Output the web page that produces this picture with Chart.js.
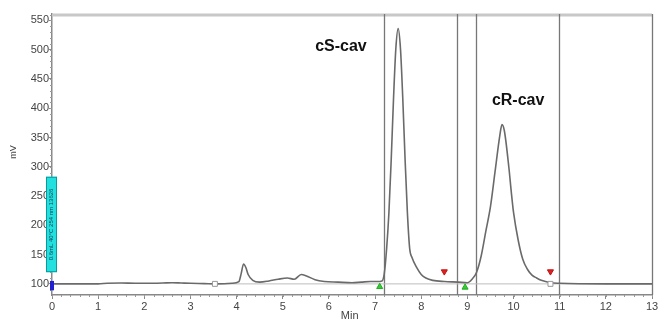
<!DOCTYPE html>
<html><head><meta charset="utf-8">
<script src="https://cdn.jsdelivr.net/npm/chart.js@4/dist/chart.umd.min.js"></script>
<style>html,body{margin:0;padding:0;background:#fff}#wrap{width:660px;height:323px}</style>
</head><body><div id="wrap"><canvas id="c" width="660" height="323"></canvas></div>
<script>
// Chromatogram trace: retention time (min) and detector signal (mV)
const times = [0,0.5,1.0,1.2,1.5,1.8,2.0,2.4,2.6,2.8,3.0,3.3,3.55,3.9,4.05,4.1,4.15,4.2,4.25,4.35,4.5,4.7,4.9,5.1,5.25,5.4,5.5,5.7,5.9,6.2,6.5,6.7,6.9,7.05,7.15,7.2,7.25,7.3,7.35,7.4,7.45,7.5,7.55,7.6,7.65,7.7,7.75,7.8,7.9,8.0,8.1,8.25,8.5,8.8,9.0,9.1,9.2,9.3,9.4,9.5,9.6,9.7,9.75,9.8,9.9,9.95,10.0,10.1,10.2,10.3,10.4,10.5,10.6,10.8,11,12,13];
const signal = [100,100,100,101,101.5,101,101,101.5,102,101.5,101,100.5,100,101,104,118,134,128,116,106,103,105,108,110,108,116,114,107,104,103,102,103,104,104,105,118,160,222,313,417,502,536,502,417,313,222,160,145,128,116,110,106,104,103,102,108,120,148,190,232,292,352,372,362,298,258,222,175,142,125,115,110,106,102,101,100,100];
// Peak labels
const peakNames = ["cS-cav","cR-cav"];
const peakLabelTimes = [6.26, 10.1];
const peakLabelMV = [505, 413];
// Integration event lines (min)
const eventLines = [7.19, 8.78, 9.19, 10.99];
// Peak start/end markers
const startTimes = [7.1, 8.95];
const startMV = [95, 94];
const endTimes = [8.5, 10.8];
const endMV = [121, 121];
const boxTimes = [3.53, 10.8];
const boxMV = [100, 100];
// Integration baseline
const baseTimes = [3.53, 13];
const baseMV = [100, 100];
// Axis ticks
const xTicks = [0,1,2,3,4,5,6,7,8,9,10,11,12,13];
const yTicks = [100,150,200,250,300,350,400,450,500,550];

const pts = (xs, ys) => xs.map((x, i) => ({x, y: ys[i]}));

const deco = {
  id: 'deco',
  beforeDatasetsDraw(chart) {
    const {ctx, chartArea: a, scales: {x, y}} = chart;
    ctx.save();
    // top border
    ctx.strokeStyle = '#c8c8c8'; ctx.lineWidth = 3;
    ctx.beginPath(); ctx.moveTo(a.left, a.top + 1); ctx.lineTo(a.right, a.top + 1); ctx.stroke();
    // event lines
    ctx.strokeStyle = '#777'; ctx.lineWidth = 1.3;
    eventLines.concat([13]).forEach(t => {
      const px = Math.round(x.getPixelForValue(t)) + 0.5;
      ctx.beginPath(); ctx.moveTo(px, a.top); ctx.lineTo(px, a.bottom); ctx.stroke();
    });
    // minor ticks
    ctx.strokeStyle = '#999'; ctx.lineWidth = 1;
    for (let v = 90; v <= 560; v += 10) {
      const py = Math.round(y.getPixelForValue(v)) + 0.5;
      ctx.beginPath(); ctx.moveTo(a.left - 2, py); ctx.lineTo(a.left, py); ctx.stroke();
    }
    for (let t = 0; t <= 13.001; t += 0.2) {
      const px = Math.round(x.getPixelForValue(t)) + 0.5;
      ctx.beginPath(); ctx.moveTo(px, a.bottom); ctx.lineTo(px, a.bottom + 2); ctx.stroke();
    }
    ctx.restore();
  },
  afterDraw(chart) {
    const {ctx, chartArea: a, scales: {x, y}} = chart;
    ctx.save();
    // peak labels
    ctx.fillStyle = '#111'; ctx.font = 'bold 16px "Liberation Sans", Arial, sans-serif';
    ctx.textAlign = 'center'; ctx.textBaseline = 'middle';
    peakNames.forEach((n, i) => ctx.fillText(n, x.getPixelForValue(peakLabelTimes[i]), y.getPixelForValue(peakLabelMV[i])));
    // cyan method box on y axis
    const bx = a.left - 6, by1 = y.getPixelForValue(283), by2 = y.getPixelForValue(120);
    ctx.fillStyle = '#22e0e0'; ctx.strokeStyle = '#0a9a9a'; ctx.lineWidth = 1;
    ctx.fillRect(bx, by1, 11, by2 - by1); ctx.strokeRect(bx + 0.5, by1 + 0.5, 10, by2 - by1 - 1);
    ctx.save();
    ctx.translate(bx + 5.5, (by1 + by2) / 2); ctx.rotate(-Math.PI / 2);
    ctx.fillStyle = '#1a3a4a'; ctx.font = '6px "Liberation Sans", Arial, sans-serif';
    ctx.textAlign = 'center'; ctx.textBaseline = 'middle';
    ctx.fillText('0.6mL 40°C 254 nm 13626', 0, 0);
    ctx.restore();
    // blue start bar
    ctx.fillStyle = '#2020d0';
    ctx.fillRect(a.left - 2, y.getPixelForValue(105), 4, y.getPixelForValue(89) - y.getPixelForValue(105));
    // axis titles
    ctx.fillStyle = '#444'; ctx.font = '11px "Liberation Sans", Arial, sans-serif';
    ctx.textAlign = 'center'; ctx.textBaseline = 'middle';
    ctx.fillText('Min', x.getPixelForValue(6.45), 316);
    ctx.save(); ctx.translate(14, 152); ctx.rotate(-Math.PI / 2);
    ctx.font = '9px "Liberation Sans", Arial, sans-serif'; ctx.fillText('mV', 0, 0); ctx.restore();
    ctx.restore();
  }
};

new Chart(document.getElementById('c'), {
  type: 'scatter',
  data: {
    datasets: [
      {data: pts(baseTimes, baseMV), showLine: true, borderColor: '#bdbdbd', borderWidth: 1, pointRadius: 0, order: 3},
      {data: pts(times, signal), showLine: true, borderColor: '#6a6a6a', borderWidth: 1.6, pointRadius: 0, tension: 0.3, cubicInterpolationMode: 'monotone', order: 2},
      {data: pts(startTimes, startMV), pointStyle: 'triangle', pointRadius: 3.5, backgroundColor: '#33cc33', borderColor: '#22aa22', borderWidth: 1, order: 1},
      {data: pts(endTimes, endMV), pointStyle: 'triangle', rotation: 180, pointRadius: 3.5, backgroundColor: '#e02020', borderColor: '#c01010', borderWidth: 1, order: 1},
      {data: pts(boxTimes, boxMV), pointStyle: 'rect', pointRadius: 3.5, backgroundColor: '#fff', borderColor: '#999', borderWidth: 1, order: 1}
    ]
  },
  options: {
    responsive: false, animation: false,
    layout: {padding: {left: 0, right: 8, top: 14, bottom: 0}},
    plugins: {legend: {display: false}, tooltip: {enabled: false}},
    scales: {
      x: {
        type: 'linear', min: 0, max: 13,
        afterBuildTicks: s => { s.ticks = xTicks.map(v => ({value: v})); },
        afterFit: s => { s.height = 28; },
        grid: {display: true, drawOnChartArea: false, tickLength: 4, color: '#888'},
        border: {color: '#888', width: 1.5},
        ticks: {color: '#444', font: {family: '"Liberation Sans", Arial, sans-serif', size: 11}, padding: 1, maxRotation: 0}
      },
      y: {
        type: 'linear', min: 81, max: 561,
        afterBuildTicks: s => { s.ticks = yTicks.map(v => ({value: v})); },
        afterFit: s => { s.width = 52; },
        grid: {display: true, drawOnChartArea: false, tickLength: 3, color: '#888'},
        border: {color: '#888', width: 1.5},
        ticks: {color: '#444', font: {family: '"Liberation Sans", Arial, sans-serif', size: 11}, padding: 0}
      }
    }
  },
  plugins: [deco]
});
</script></body></html>
